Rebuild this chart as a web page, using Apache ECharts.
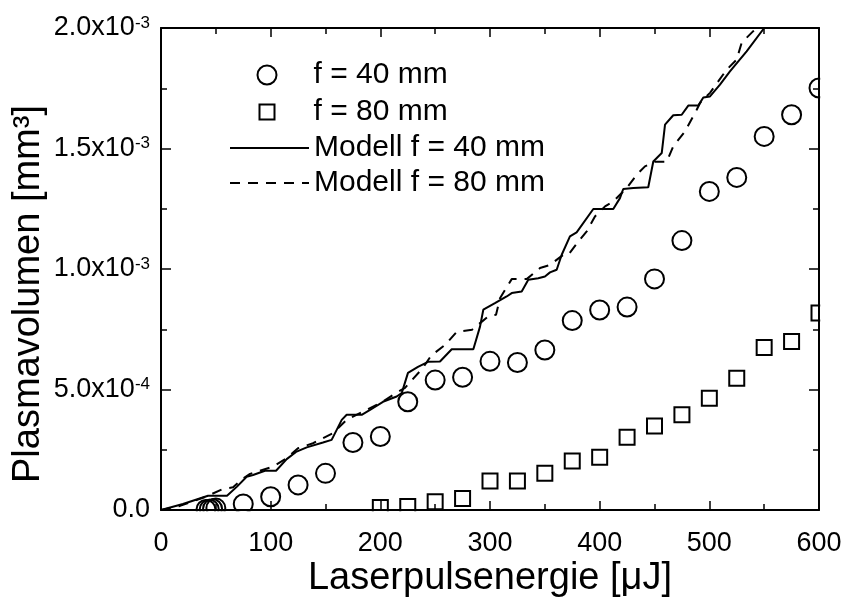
<!DOCTYPE html>
<html><head><meta charset="utf-8">
<script src="https://cdn.jsdelivr.net/npm/echarts@6/dist/echarts.min.js"></script>
<style>html,body{margin:0;padding:0;background:#fff}#c{width:843px;height:609px}</style>
</head><body><div id="c"></div>
<script>
// ---- data ----
const xTickLabels = ['0','100','200','300','400','500','600'];
const yTickLabels = ['0.0','5.0x10','1.0x10','1.5x10','2.0x10'];
const yTickExp = ['','-4','-3','-3','-3'];

const f40E = [41,44,47,50,75,100,125,150,175,200,225,250,275,300,325,350,375,400,425,450,475,500,525,550,575,600];
const f40V = [2e-6,3e-6,5e-6,8e-6,2.5e-5,5.5e-5,1.04e-4,1.52e-4,2.8e-4,3.05e-4,4.49e-4,5.39e-4,5.51e-4,6.17e-4,6.12e-4,6.64e-4,7.86e-4,8.3e-4,8.42e-4,9.59e-4,1.118e-3,1.322e-3,1.38e-3,1.55e-3,1.64e-3,1.751e-3];

const f80E = [200,225,250,275,300,325,350,375,400,425,450,475,500,525,550,575,600];
const f80V = [1e-5,1.5e-5,3.4e-5,4.8e-5,1.2e-4,1.2e-4,1.52e-4,2.03e-4,2.19e-4,3.02e-4,3.49e-4,3.95e-4,4.64e-4,5.47e-4,6.74e-4,6.99e-4,8.17e-4];

const m40E = [0,20,42.9,60.2,69.3,78.1,83.9,94.8,104.9,114.6,123.1,132.9,147.7,155.6,164.8,169.3,183,190.6,202.4,214.9,219.5,225.2,234.3,243.5,254.4,265.1,284.8,290.9,293.9,304.5,315.2,319.8,328.9,334.9,344,350.1,354.7,360.8,365.4,372.9,379,394.2,412.4,418.5,421.5,430.7,444.3,448.9,456.6,459.6,467.1,474.8,480.8,489.9,494.5,500.6,509.7,518.8,534,550];
const m40V = [0,2.5e-5,5.9e-5,5.9e-5,9.7e-5,1.38e-4,1.45e-4,1.63e-4,1.63e-4,2.11e-4,2.41e-4,2.6e-4,2.8e-4,2.91e-4,3.74e-4,3.95e-4,3.95e-4,4.15e-4,4.49e-4,4.71e-4,4.85e-4,5.69e-4,5.94e-4,6.15e-4,6.16e-4,6.67e-4,6.67e-4,7.61e-4,8.31e-4,8.58e-4,8.86e-4,9.0e-4,9.07e-4,9.55e-4,9.62e-4,9.69e-4,9.86e-4,9.97e-4,1.059e-3,1.135e-3,1.152e-3,1.249e-3,1.249e-3,1.294e-3,1.332e-3,1.336e-3,1.339e-3,1.446e-3,1.481e-3,1.599e-3,1.638e-3,1.640e-3,1.678e-3,1.678e-3,1.712e-3,1.716e-3,1.765e-3,1.820e-3,1.903e-3,2.0e-3];

const m80E = [0,17.3,28,40.1,56.5,65.7,73,81.2,102.1,114.6,124.9,138.6,156.8,169.3,184.2,199.7,214.9,222.5,238.9,246.2,259,269.6,283.6,298.4,305.5,309.1,319.8,324.6,333.7,345.6,354.7,366.8,371.4,380.5,388.2,395.7,404.9,412.4,424.6,433.8,441.3,450.4,461.1,467.1,477.8,488.5,491.5,500.6,515.8,524.9,529.5,539.8,544.4];
const m80V = [0,1.7e-5,3.4e-5,5.4e-5,8.7e-5,9.4e-5,1.25e-4,1.5e-4,1.8e-4,2.15e-4,2.56e-4,2.77e-4,3.19e-4,3.74e-4,4.08e-4,4.43e-4,4.87e-4,5.07e-4,5.9e-4,6.4e-4,6.85e-4,7.39e-4,7.48e-4,8.03e-4,8.1e-4,8.79e-4,9.58e-4,9.58e-4,9.59e-4,1.004e-3,1.017e-3,1.059e-3,1.059e-3,1.114e-3,1.156e-3,1.218e-3,1.26e-3,1.28e-3,1.336e-3,1.391e-3,1.426e-3,1.445e-3,1.445e-3,1.509e-3,1.571e-3,1.661e-3,1.689e-3,1.731e-3,1.827e-3,1.869e-3,1.939e-3,1.986e-3,2.0e-3];

const pairs = (a, b) => a.map((v, i) => [v, b[i]]);
const FONT = "'Liberation Sans', Arial, Helvetica, sans-serif";

function makeX(extra) {
  return Object.assign({
    type: 'value', min: 0, max: 600, interval: 100, z: 10, nameMoveOverlap: false,
    axisLine: {show: true, onZero: false, lineStyle: {color: '#000', width: 2}},
    axisTick: {show: true, inside: true, length: 9, lineStyle: {color: '#000', width: 1.5}},
    minorTick: {show: true, splitNumber: 2, length: 6, lineStyle: {color: '#000', width: 1.5}},
    splitLine: {show: false}, minorSplitLine: {show: false}
  }, extra);
}
function makeY(extra) {
  return Object.assign({
    type: 'value', min: 0, max: 2e-3, interval: 5e-4, z: 10, nameMoveOverlap: false,
    axisLine: {show: true, onZero: false, lineStyle: {color: '#000', width: 2}},
    axisTick: {show: true, inside: true, length: 10, lineStyle: {color: '#000', width: 1.5}},
    minorTick: {show: true, splitNumber: 2, length: 6, lineStyle: {color: '#000', width: 1.5}},
    splitLine: {show: false}, minorSplitLine: {show: false}
  }, extra);
}

function makeLegend(extra, textPad) {
  return Object.assign({
    orient: 'vertical', padding: 0, selectedMode: false,
    textStyle: {fontSize: 30, fontFamily: FONT, color: '#000', lineHeight: 32, padding: [0, 0, 0, textPad]}
  }, extra);
}
const hollow = {color: 'rgba(0,0,0,0)', borderColor: '#000', borderWidth: 2, opacity: 1};
const noSym = {color: 'rgba(0,0,0,0)', borderColor: 'rgba(0,0,0,0)', borderWidth: 0};

const chart = echarts.init(document.getElementById('c'), null, {renderer: 'canvas'});
chart.setOption({
  animation: false,
  backgroundColor: '#fff',
  grid: {left: 161, right: 24, top: 28, bottom: 99, containLabel: false, outerBoundsMode: 'none'},
  xAxis: [
    makeX({
      position: 'bottom',
      name: 'Laserpulsenergie [\u03BCJ]', nameLocation: 'middle', nameGap: 50,
      nameTextStyle: {fontSize: 38, fontFamily: FONT, color: '#000'},
      axisLabel: {show: true, margin: 20, fontSize: 27, fontFamily: FONT, color: '#000',
        formatter: v => xTickLabels[Math.round(v / 100)]}
    }),
    makeX({position: 'top', axisLabel: {show: false}})
  ],
  yAxis: [
    makeY({
      position: 'left',
      name: 'Plasmavolumen [mm\u00B3]', nameLocation: 'middle', nameGap: 113, nameRotate: 90,
      nameTextStyle: {fontSize: 38, fontFamily: FONT, color: '#000', padding: [0, 50, 0, 0]},
      axisLabel: {show: true, margin: 11, fontFamily: FONT, color: '#000',
        formatter: v => {
          const i = Math.round(v / 5e-4);
          return yTickExp[i] ? '{b|' + yTickLabels[i] + '}{s|' + yTickExp[i] + '}' : '{b|' + yTickLabels[i] + '}';
        },
        rich: {
          b: {fontSize: 27, fontFamily: FONT, color: '#000'},
          s: {fontSize: 17, fontFamily: FONT, color: '#000', verticalAlign: 'top', padding: [0, 0, 8, 0]}
        }
      }
    }),
    makeY({position: 'right', axisLabel: {show: false}})
  ],
  legend: [
    makeLegend({left: 256.5, top: 59, itemWidth: 19, itemHeight: 19,
      data: [{name: 'f = 40 mm', icon: 'circle', itemStyle: hollow}]}, 32),
    makeLegend({left: 258.5, top: 96, itemWidth: 15, itemHeight: 15,
      data: [{name: 'f = 80 mm', icon: 'rect', itemStyle: hollow}]}, 34),
    makeLegend({left: 229, top: 132, itemWidth: 79, itemHeight: 19,
      data: [{name: 'Modell f = 40 mm', itemStyle: noSym}]}, 0),
    makeLegend({left: 229, top: 167, itemWidth: 79, itemHeight: 19,
      data: [{name: 'Modell f = 80 mm', itemStyle: noSym}]}, 0)
  ],
  series: [
    {name: 'Modell f = 40 mm', type: 'line', xAxisIndex: 0, yAxisIndex: 0, data: pairs(m40E, m40V),
      symbol: 'none', showSymbol: false, clip: true,
      lineStyle: {color: '#000', width: 2, type: 'solid'}, itemStyle: {color: '#000'}},
    {name: 'Modell f = 80 mm', type: 'line', xAxisIndex: 0, yAxisIndex: 0, data: pairs(m80E, m80V),
      symbol: 'none', showSymbol: false, clip: true,
      lineStyle: {color: '#000', width: 2, type: [10, 8]}, itemStyle: {color: '#000'}},
    {name: 'f = 40 mm', type: 'scatter', xAxisIndex: 0, yAxisIndex: 0, data: pairs(f40E, f40V),
      symbol: 'circle', symbolSize: 19, clip: true, itemStyle: hollow},
    {name: 'f = 80 mm', type: 'scatter', xAxisIndex: 0, yAxisIndex: 0, data: pairs(f80E, f80V),
      symbol: 'rect', symbolSize: 15, clip: true, itemStyle: hollow}
  ]
});

// white masks just outside the plotting area so edge symbols look clipped like the reference
const pBL = chart.convertToPixel({gridIndex: 0}, [0, 0]);
const pTR = chart.convertToPixel({gridIndex: 0}, [600, 2e-3]);
chart.setOption({
  graphic: [
    {type: 'rect', z: 5, silent: true,
      shape: {x: pTR[0] + 1.2, y: 0, width: 843 - pTR[0], height: pBL[1] + 10},
      style: {fill: '#fff'}},
    {type: 'rect', z: 5, silent: true,
      shape: {x: pBL[0] - 1, y: pBL[1] + 1.2, width: pTR[0] - pBL[0] + 12, height: 14},
      style: {fill: '#fff'}}
  ]
});
</script></body></html>
